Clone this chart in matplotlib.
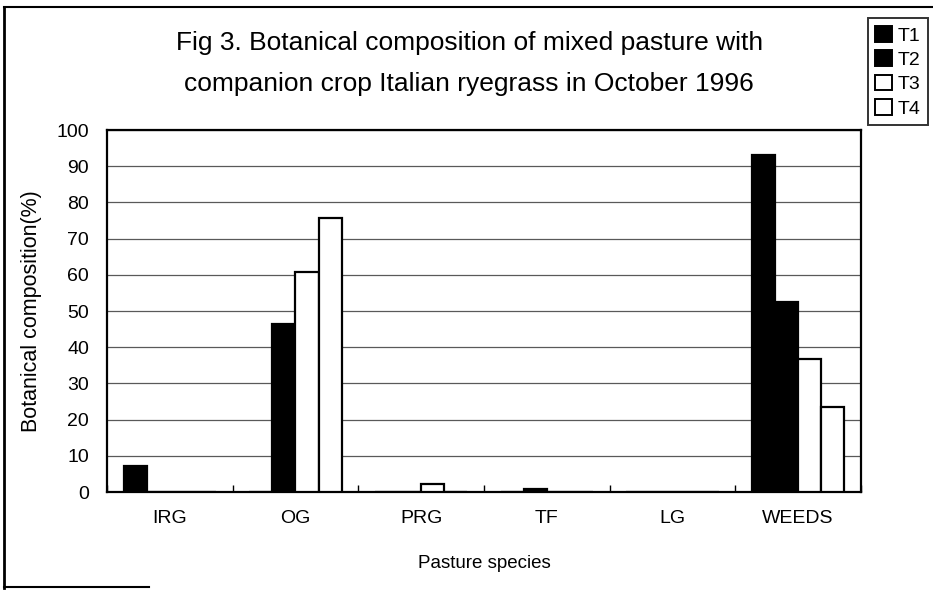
import numpy as np
import matplotlib
matplotlib.use("Agg")
import matplotlib.pyplot as plt
from matplotlib.lines import Line2D
from matplotlib.patches import Patch

plt.rcParams["font.family"] = ["Liberation Sans", "DejaVu Sans"]

# 데이터
species = ["IRG", "OG", "PRG", "TF", "LG", "WEEDS"]
treatments = ["T1", "T2", "T3", "T4"]
t1 = [7.3, 0, 0, 0, 0, 93.0]
t2 = [0, 46.3, 0, 0.8, 0, 52.5]
t3 = [0, 60.8, 2.2, 0, 0, 36.8]
t4 = [0, 75.7, 0, 0, 0, 23.5]
yticks = list(range(0, 101, 10))

values = [t1, t2, t3, t4]
fills = ["black", "black", "white", "white"]

fig = plt.figure(figsize=(9.33, 5.90), dpi=100)
ax = fig.add_axes([0.1147, 0.166, 0.808, 0.6136])

x = np.arange(len(species))
w = 0.184
for i, (vals, fc) in enumerate(zip(values, fills)):
    ax.bar(x + (i - 1.5) * w, vals, w, color=fc, edgecolor="black",
           linewidth=1.6, label=treatments[i], zorder=3)

ax.set_xlim(-0.5, len(species) - 0.5)
ax.set_ylim(0, 100)
ax.set_yticks(yticks)
ax.set_xticks(x)
ax.set_xticklabels(species)
ax.set_xticks(np.arange(-0.5, len(species)), minor=True)
ax.tick_params(axis="x", which="major", length=0, pad=13, labelsize=14)
ax.tick_params(axis="x", which="minor", length=5, direction="in", width=1)
ax.tick_params(axis="y", length=0, pad=13, labelsize=14)
ax.yaxis.grid(True, color="0.35", linewidth=0.9, zorder=0)
for s in ax.spines.values():
    s.set_linewidth(1.6)

ax.set_xlabel("Pasture species", fontsize=13.5, labelpad=20)
ax.set_ylabel("Botanical composition(%)", fontsize=15.5, labelpad=10)

fig.text(0.503, 0.927, "Fig 3. Botanical composition of mixed pasture with",
         ha="center", va="center", fontsize=19)
fig.text(0.503, 0.858, "companion crop Italian ryegrass in October 1996",
         ha="center", va="center", fontsize=19)

handles = [Patch(facecolor=fc, edgecolor="black", linewidth=1.4) for fc in fills]
leg = fig.legend(handles, treatments, loc="upper right",
                 bbox_to_anchor=(0.995, 0.969), borderaxespad=0,
                 fontsize=14, handlelength=0.85, handleheight=0.85,
                 handletextpad=0.3, labelspacing=0.3, borderpad=0.4,
                 fancybox=False, frameon=True, edgecolor="black")
leg.get_frame().set_linewidth(1.4)

# 스캔 원본의 바깥 테두리
fig.add_artist(Line2D([0.004, 0.004], [0.003, 0.988], color="black",
                      linewidth=2, transform=fig.transFigure))
fig.add_artist(Line2D([0.004, 1.0], [0.988, 0.988], color="black",
                      linewidth=1.5, transform=fig.transFigure))
fig.add_artist(Line2D([0.004, 0.16], [0.005, 0.005], color="black",
                      linewidth=1.5, transform=fig.transFigure))

fig.savefig("out.png", dpi=100)
